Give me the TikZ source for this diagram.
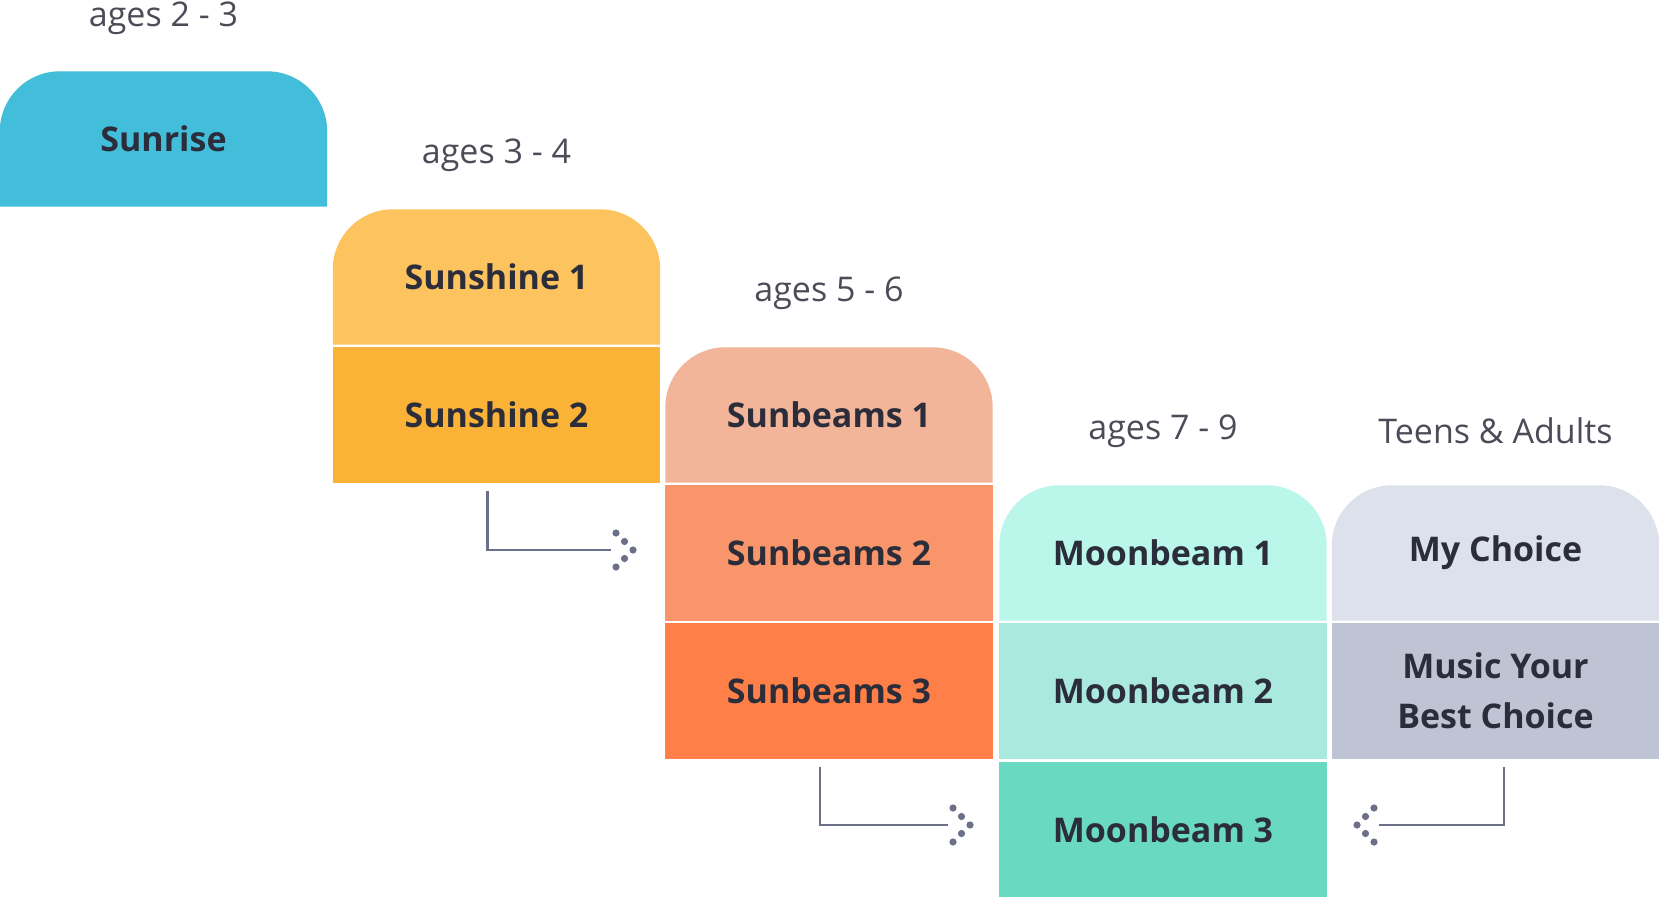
\documentclass[tikz,border=0pt]{standalone}
\usepackage{fontspec}
\setmainfont{Open Sans}
\usetikzlibrary{backgrounds}
\definecolor{sunrise}{HTML}{42BEDB}
\definecolor{shineA}{HTML}{FDC35E}
\definecolor{shineB}{HTML}{FBB337}
\definecolor{beamA}{HTML}{F2B599}
\definecolor{beamB}{HTML}{F9956A}
\definecolor{beamC}{HTML}{FE8048}
\definecolor{moonA}{HTML}{BAF6EA}
\definecolor{moonB}{HTML}{A9E9DE}
\definecolor{moonC}{HTML}{6AD9C1}
\definecolor{teenA}{HTML}{DDE1EC}
\definecolor{teenB}{HTML}{BEC4D3}
\definecolor{ink}{HTML}{2B2D3A}
\definecolor{wire}{HTML}{6B7088}
\tikzset{
  cell/.style={minimum width=327pt,minimum height=135pt,inner sep=0pt,align=center,
    text=ink,font=\fontsize{34}{50}\selectfont\bfseries},
  age/.style={text=ink!85,font=\fontsize{34}{40}\selectfont},
  link/.style={wire,line width=2.2pt}
}
\newcommand\dotsright[1]{\foreach \dx/\dy in {0/0,-8.5/8.5,-8.5/-8.5,-17/17,-17/-17}
  \fill[wire] ([shift={(\dx pt,\dy pt)}]#1) circle (3.6pt);}
\newcommand\dotsleft[1]{\foreach \dx/\dy in {0/0,8.5/8.5,8.5/-8.5,17/17,17/-17}
  \fill[wire] ([shift={(\dx pt,\dy pt)}]#1) circle (3.6pt);}
\newcommand\topfill[2]{\fill[#2] (#1.south west) [rounded corners=60pt] -- (#1.north west)
  -- (#1.north east) [sharp corners] -- (#1.south east) -- cycle;}
\newcommand\boxfill[2]{\fill[#2] (#1.south west) rectangle (#1.north east);}

\begin{document}
\begin{tikzpicture}[x=1pt,y=-1pt]
\useasboundingbox (0,0) rectangle (1659,897);
% column 1
\node[cell] (sunrise) at (163.5,139) {Sunrise};
\node[age] (age1) at (163.5,18) {ages 2 - 3};
% column 2
\node[cell] (shine1) at (496.5,277) {Sunshine 1};
\node[cell] (shine2) at (496.5,415) {Sunshine 2};
\node[age] (age2) at (496.5,155) {ages 3 - 4};
% column 3
\node[cell] (beam1) at (829,415) {Sunbeams 1};
\node[cell] (beam2) at (829,553) {Sunbeams 2};
\node[cell] (beam3) at (829,691) {Sunbeams 3};
\node[age] (age3) at (829,293) {ages 5 - 6};
% column 4
\node[cell] (moon1) at (1163,553) {Moonbeam 1};
\node[cell] (moon2) at (1163,691) {Moonbeam 2};
\node[cell] (moon3) at (1163,829.5) {Moonbeam 3};
\node[age] (age4) at (1163,431) {ages 7 - 9};
% column 5
\node[cell] (choice) at (1495.5,553) {My Choice};
\node[cell] (music) at (1495.5,691) {Music Your\\Best Choice};
\node[age] (age5) at (1495.5,431) {Teens \& Adults};

\begin{scope}[on background layer]
\topfill{sunrise}{sunrise}
\topfill{shine1}{shineA}
\boxfill{shine2}{shineB}
\topfill{beam1}{beamA}
\boxfill{beam2}{beamB}
\boxfill{beam3}{beamC}
\topfill{moon1}{moonA}
\boxfill{moon2}{moonB}
\boxfill{moon3}{moonC}
\topfill{choice}{teenA}
\boxfill{music}{teenB}
\end{scope}

% connectors
\coordinate (e1) at (633,550);
\coordinate (e2) at (970,825);
\coordinate (e3) at (1357,825);
\draw[link] ([shift={(-9,8)}]shine2.south) |- ([xshift=-22]e1);
\dotsright{e1}
\draw[link] ([shift={(-9,8)}]beam3.south) |- ([xshift=-22]e2);
\dotsright{e2}
\draw[link] ([shift={(8.5,8)}]music.south) |- ([xshift=22]e3);
\dotsleft{e3}
\end{tikzpicture}
\end{document}
